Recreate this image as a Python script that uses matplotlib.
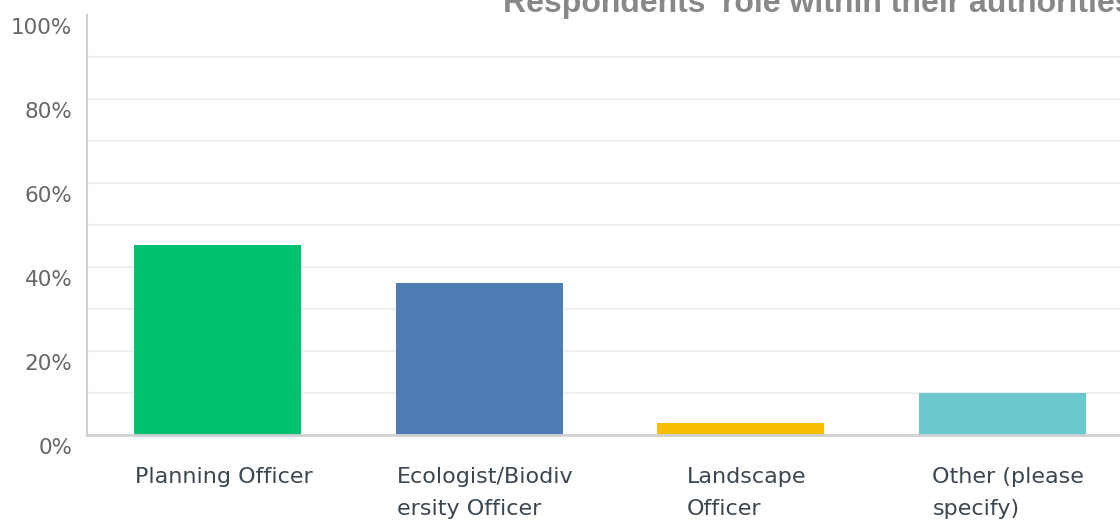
import matplotlib
matplotlib.use("Agg")
import matplotlib.pyplot as plt
from matplotlib.transforms import ScaledTranslation

# Survey results: share of respondents in each role
categories = ["Planning Officer", "Ecologist/Biodiv\nersity Officer", "Landscape\nOfficer", "Other (please\nspecify)"]
percent = [45.2, 36.1, 2.7, 9.8]
bar_colors = ["#00BF6F", "#507CB6", "#F9BE00", "#6BC8CD"]
y_ticks = [0, 20, 40, 60, 80, 100]
y_tick_labels = ["0%", "20%", "40%", "60%", "80%", "100%"]
grid_levels = [10, 20, 30, 40, 50, 60, 70, 80, 90]
title = "Respondents' role within their authorities"

W, H, DPI = 1120, 521, 100
fig = plt.figure(figsize=(W / DPI, H / DPI), dpi=DPI)

left, right = 87, 1133
top, bottom = 14.5, 434.5
ax = fig.add_axes([left / W, 1 - bottom / H, (right - left) / W, (bottom - top) / H])

for g in grid_levels:
    ax.axhline(g, color="#EFEFEF", lw=1.6, zorder=0)

x = list(range(len(categories)))
ax.bar(x, percent, width=0.64, color=bar_colors, zorder=2)

ax.set_xlim(-0.5, len(categories) - 0.5)
ax.set_ylim(0, 100)

ax.set_yticks(y_ticks)
ax.set_yticklabels(y_tick_labels, fontsize=15.5, color="#666666", family="DejaVu Sans")
ax.set_xticks(x)
ax.set_xticklabels(categories, fontsize=16, color="#3B4650", family="DejaVu Sans",
                   linespacing=1.75, multialignment="left")

ax.tick_params(axis="both", length=0)
ax.tick_params(axis="y", pad=10.5)
ax.tick_params(axis="x", pad=23.5)

# y labels sit a little below their gridline; category labels a touch right of centre
y_shift = ScaledTranslation(0, -12 / DPI, fig.dpi_scale_trans)
for lab in ax.get_yticklabels():
    lab.set_transform(lab.get_transform() + y_shift)
x_shift = ScaledTranslation(6 / DPI, 0, fig.dpi_scale_trans)
for lab in ax.get_xticklabels():
    lab.set_transform(lab.get_transform() + x_shift)

for side in ("top", "right"):
    ax.spines[side].set_visible(False)
ax.spines["left"].set_color("#D0D0D0")
ax.spines["left"].set_linewidth(1.5)
ax.spines["bottom"].set_color("#D0D0D0")
ax.spines["bottom"].set_linewidth(2)

fig.text(503 / W, 1 - 12 / H, title, ha="left", va="baseline",
         fontsize=23, fontweight="bold", color="#888888", family="Liberation Sans")

fig.savefig("out.png", dpi=DPI)
